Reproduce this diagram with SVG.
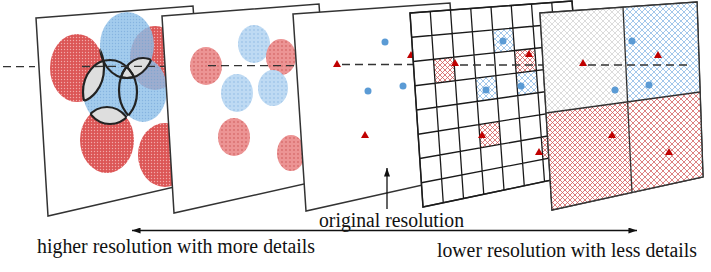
<svg xmlns="http://www.w3.org/2000/svg" width="711" height="272" viewBox="0 0 711 272">
<style>
.panel{fill:#fff;stroke:#333;stroke-width:1.5}
.trace{fill:none;stroke:#333;stroke-width:1.3;stroke-dasharray:8,5}
.grid{fill:none;stroke:#1a1a1a;stroke-width:1.3}
.div{fill:none;stroke:#333;stroke-width:1.3}
.tri{fill:#c00000}
.dot{fill:#5b9bd5}
.lens{fill:#dedede;stroke:#222;stroke-width:2.2}
.arc{fill:none;stroke:#222;stroke-width:2.2}
.lbl{font-family:"Liberation Serif","Times New Roman",serif;font-size:20.5px;fill:#111}
.conn{fill:none;stroke:#111;stroke-width:1.3}
</style>
<defs>
<pattern id="dR1" width="3" height="3" patternUnits="userSpaceOnUse"><rect width="3" height="3" fill="#dc5656"/><circle cx="1.5" cy="1.5" r="0.7" fill="#f2aaaa"/></pattern>
<pattern id="dB1" width="3" height="3" patternUnits="userSpaceOnUse"><rect width="3" height="3" fill="#90c1ea"/><circle cx="1.5" cy="1.5" r="0.7" fill="#6ba4d8"/></pattern>
<pattern id="dR2" width="4" height="4" patternUnits="userSpaceOnUse"><rect width="4" height="4" fill="#ec9494"/><circle cx="2" cy="2" r="0.7" fill="#c64c4c"/></pattern>
<pattern id="dB2" width="4" height="4" patternUnits="userSpaceOnUse"><rect width="4" height="4" fill="#bedaf3"/><circle cx="2" cy="2" r="0.7" fill="#86b5e1"/></pattern>
<pattern id="hR" width="5" height="5" patternUnits="userSpaceOnUse"><rect width="5" height="5" fill="#fff"/><path d="M0,0L5,5M5,0L0,5" stroke="#d25a5a" stroke-width="0.8"/></pattern>
<pattern id="hR2" width="6" height="6" patternUnits="userSpaceOnUse"><rect width="6" height="6" fill="#fff"/><path d="M0,0L6,6M6,0L0,6" stroke="#d46262" stroke-width="0.8"/></pattern>
<pattern id="hB" width="6" height="6" patternUnits="userSpaceOnUse"><rect width="6" height="6" fill="#fff"/><path d="M0,0L6,6M6,0L0,6" stroke="#8bb9e4" stroke-width="0.8"/></pattern>
<pattern id="hG" width="6" height="6" patternUnits="userSpaceOnUse"><rect width="6" height="6" fill="#fff"/><path d="M0,0L6,6M6,0L0,6" stroke="#cdcdcd" stroke-width="0.7"/></pattern>
<clipPath id="cRL"><ellipse cx="77" cy="68" rx="27" ry="34"/></clipPath>
<clipPath id="cBT"><ellipse cx="127" cy="45" rx="27" ry="33"/></clipPath>
<clipPath id="cBM"><ellipse cx="110" cy="92" rx="27" ry="32"/></clipPath>
<clipPath id="cBR"><ellipse cx="143" cy="90" rx="24" ry="32"/></clipPath>
<clipPath id="cRB"><ellipse cx="107" cy="140" rx="27" ry="33"/></clipPath>
<marker id="ah" viewBox="0 0 10 7" refX="10" refY="3.5" markerWidth="9" markerHeight="6" markerUnits="userSpaceOnUse" orient="auto-start-reverse"><path d="M0,0L10,3.5L0,7Z" fill="#111"/></marker>
</defs>

<g id="panel1">
<polygon class="panel" points="36,18 193,6 205,180 48,216"/>
<ellipse cx="77" cy="68" rx="27" ry="34" fill="url(#dR1)"/>
<ellipse cx="155" cy="58" rx="25" ry="32" fill="url(#dR1)"/>
<ellipse cx="107" cy="140" rx="27" ry="33" fill="url(#dR1)"/>
<ellipse cx="165" cy="155" rx="27" ry="32" fill="url(#dR1)"/>
<g opacity="0.82">
<ellipse cx="127" cy="45" rx="27" ry="33" fill="url(#dB1)"/>
<ellipse cx="110" cy="92" rx="27" ry="32" fill="url(#dB1)"/>
<ellipse cx="143" cy="90" rx="24" ry="32" fill="url(#dB1)"/>
</g>
<ellipse class="lens" cx="110" cy="92" rx="27" ry="32" clip-path="url(#cRL)"/>
<ellipse class="arc" cx="77" cy="68" rx="27" ry="34" clip-path="url(#cBM)"/>
<ellipse class="lens" cx="107" cy="140" rx="27" ry="33" clip-path="url(#cBM)"/>
<ellipse class="arc" cx="110" cy="92" rx="27" ry="32" clip-path="url(#cRB)"/>
<ellipse class="lens" cx="143" cy="90" rx="24" ry="32" clip-path="url(#cBT)"/>
<ellipse class="arc" cx="127" cy="45" rx="27" ry="33" clip-path="url(#cBR)"/>
<ellipse class="lens" cx="127" cy="45" rx="27" ry="33" clip-path="url(#cRL)"/>
<ellipse class="arc" cx="77" cy="68" rx="27" ry="34" clip-path="url(#cBT)"/>
<ellipse class="arc" cx="110" cy="92" rx="27" ry="32" clip-path="url(#cBT)"/>
<ellipse class="arc" cx="127" cy="45" rx="27" ry="33" clip-path="url(#cBM)"/>
<ellipse class="arc" cx="110" cy="92" rx="27" ry="32" clip-path="url(#cBR)"/>
<ellipse class="arc" cx="143" cy="90" rx="24" ry="32" clip-path="url(#cBM)"/>
<line class="trace" x1="82" y1="66.5" x2="200" y2="66.3"/>
</g>

<g id="panel2">
<polygon class="panel" points="162,16 319,4 331,178 174,213"/>
<ellipse cx="206" cy="66" rx="16" ry="19" fill="url(#dR2)"/>
<ellipse cx="254" cy="44" rx="16" ry="19" fill="url(#dB2)"/>
<ellipse cx="281" cy="57" rx="15" ry="18" fill="url(#dR2)"/>
<ellipse cx="237" cy="93" rx="16" ry="19" fill="url(#dB2)"/>
<ellipse cx="273" cy="88" rx="15" ry="18" fill="url(#dB2)"/>
<ellipse cx="234" cy="137" rx="16" ry="19" fill="url(#dR2)"/>
<ellipse cx="291" cy="153" rx="14" ry="18" fill="url(#dR2)"/>
<line class="trace" x1="208" y1="65.7" x2="330" y2="65.5"/>
</g>

<g id="panel3">
<polygon class="panel" points="293,14 450,3 463,176 306,211"/>
<circle class="dot" cx="385" cy="42" r="3.5"/>
<circle class="dot" cx="368" cy="91" r="3.5"/>
<circle class="dot" cx="403" cy="86" r="3.5"/>
<path class="tri" d="M337,60L341,67L333,67Z"/>
<path class="tri" d="M365,131L369,138L361,138Z"/>
<path class="tri" d="M411,51L415,58L407,58Z"/>
<line class="trace" x1="342" y1="64.5" x2="460" y2="64.5"/>
</g>

<g id="panel4">
<polygon class="panel" points="410,13 572,1 585,173 423,207"/>
<polygon fill="url(#hR)" points="433.5,59.3 453.75,57.1 455.4,80.7 435.1,83.2"/>
<polygon fill="url(#hB)" points="492.6,29.9 512.9,28 514.5,50.6 494.25,52.75"/>
<polygon fill="url(#hR)" points="514.5,50.6 534.75,48.4 536.4,70.6 516.1,73.1"/>
<polygon fill="url(#hB)" points="475.6,78.2 495.9,75.6 497.5,98.5 477.25,101.4"/>
<polygon fill="url(#hB)" points="516.1,73.1 536.4,70.6 538,92.75 517.75,95.6"/>
<polygon fill="url(#hR)" points="478.9,124.6 499.1,121.4 500.75,144.25 480.5,147.8"/>
<polygon fill="url(#hR)" points="541.25,137.1 561.5,133.6 563.1,155.4 542.9,159.3"/>
<path class="grid" d="M430.25,11.5L443.25,202.75M450.5,10L463.5,198.5M470.75,8.5L483.75,194.25M491,7L504,190M511.25,5.5L524.25,185.75M531.5,4L544.5,181.5M551.75,2.5L564.75,177.25M411.6,37.25L573.6,22.5M413.25,61.5L575.25,44M414.9,85.75L576.9,65.5M416.5,110L578.5,87M418.1,134.25L580.1,108.5M419.75,158.5L581.75,130M421.4,182.75L583.4,151.5"/>
<polygon class="grid" points="410,13 572,1 585,173 423,207"/>
<circle class="dot" cx="503" cy="41" r="3.5"/>
<circle class="dot" cx="486" cy="90" r="3.5"/>
<circle class="dot" cx="521" cy="86" r="3.5"/>
<path class="tri" d="M455,59L459,66L451,66Z"/>
<path class="tri" d="M529,50L533,57L525,57Z"/>
<path class="tri" d="M482,131L486,138L478,138Z"/>
<path class="tri" d="M539,148L543,155L535,155Z"/>
<line class="trace" x1="460" y1="65" x2="590" y2="65"/>
</g>

<g id="panel5">
<polygon class="panel" points="540,13 697,2 703,177 552,210"/>
<polygon fill="url(#hG)" points="540,13 623,7 627.6,101.8 546,113"/>
<polygon fill="url(#hB)" points="623,7 697,2 700,92 627.6,101.8"/>
<polygon fill="url(#hR)" points="546,113 627.6,101.8 632,193 552,210"/>
<polygon fill="url(#hR2)" points="627.6,101.8 700,92 703,177 632,193"/>
<path class="div" d="M623,7L632,193M546,113L700,92"/>
<polygon class="div" points="540,13 697,2 703,177 552,210"/>
<circle class="dot" cx="632" cy="41" r="3.5"/>
<circle class="dot" cx="649" cy="85" r="3.5"/>
<circle class="dot" cx="615" cy="90" r="3.5"/>
<path class="tri" d="M583,59L587,66L579,66Z"/>
<path class="tri" d="M658,51L662,58L654,58Z"/>
<path class="tri" d="M612,131L616,138L608,138Z"/>
<path class="tri" d="M669,148L673,155L665,155Z"/>
<line class="trace" x1="588" y1="65" x2="687" y2="65"/>
</g>

<g id="connectors">
<line class="trace" x1="3" y1="66.7" x2="35" y2="66.7"/>
<line class="conn" x1="387" y1="209" x2="387" y2="168" marker-end="url(#ah)"/>
<line class="conn" x1="132" y1="230.5" x2="637" y2="230.5" marker-start="url(#ah)" marker-end="url(#ah)"/>
</g>

<g id="labels">
<text class="lbl" x="319" y="227" textLength="145" lengthAdjust="spacingAndGlyphs">original resolution</text>
<text class="lbl" x="37" y="253" textLength="278" lengthAdjust="spacingAndGlyphs">higher resolution with more details</text>
<text class="lbl" x="437" y="257" textLength="260" lengthAdjust="spacingAndGlyphs">lower resolution with less details</text>
</g>
</svg>
